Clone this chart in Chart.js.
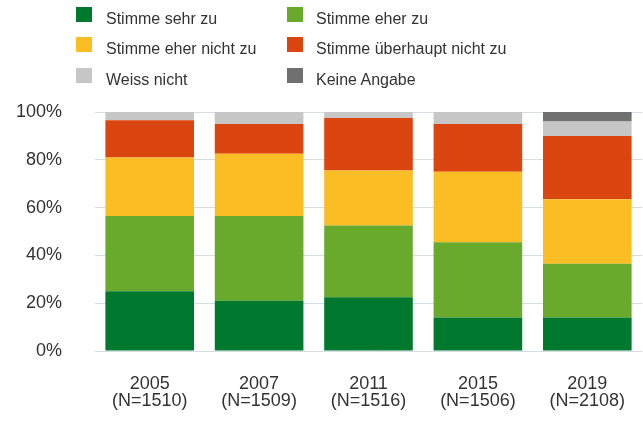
<!DOCTYPE html>
<html>
<head>
<meta charset="utf-8">
<script src="https://cdn.jsdelivr.net/npm/chart.js@4"></script>
<style>
  html, body { margin: 0; padding: 0; background: #fff; }
  #wrap { position: relative; width: 643px; height: 421px; overflow: hidden; }
  #chart { position: absolute; left: 0; top: 0; }
  .lg-box { position: absolute; width: 16px; height: 15px; }
  .lg-text { position: absolute; font: 16px "Liberation Sans", Arial, sans-serif; line-height: 16px; color: #333; white-space: nowrap; }
</style>
</head>
<body>
<div id="wrap">
  <canvas id="chart" width="643" height="421"></canvas>
  <div id="legend"></div>
</div>
<script>
// categories
const years = ['2005', '2007', '2011', '2015', '2019'];
const sampleSizes = ['(N=1510)', '(N=1509)', '(N=1516)', '(N=1506)', '(N=2108)'];

// shares in percent, bottom to top
const sehrZu          = [25,   21,   22.5, 14,   14];
const eherZu          = [31.5, 35.5, 30,   31.5, 22.5];
const eherNichtZu     = [24.5, 26,   23,   29.5, 27];
const ueberhauptNicht = [15.5, 12.5, 22,   20,   26.5];
const weissNicht      = [3.5,  5,    2.5,  5,    6];
const keineAngabe     = [0,    0,    0,    0,    4];

const yTicks = [0, 20, 40, 60, 80, 100];

const seriesNames = ['Stimme sehr zu', 'Stimme eher zu', 'Stimme eher nicht zu',
  'Stimme überhaupt nicht zu', 'Weiss nicht', 'Keine Angabe'];
const seriesData = [sehrZu, eherZu, eherNichtZu, ueberhauptNicht, weissNicht, keineAngabe];
const colors = ['#00792f', '#69a92b', '#fabd24', '#db4510', '#c6c6c6', '#707070'];

const font = '"Liberation Sans", Arial, sans-serif';

new Chart(document.getElementById('chart'), {
  type: 'bar',
  data: {
    labels: years.map((y, i) => [y, sampleSizes[i]]),
    datasets: seriesNames.map((name, i) => ({
      label: name,
      data: seriesData[i],
      backgroundColor: colors[i],
      borderWidth: 0,
      barPercentage: 0.81,
      categoryPercentage: 1
    }))
  },
  options: {
    responsive: false,
    animation: false,
    layout: { padding: { top: 112, left: 0, right: 1, bottom: 8 } },
    plugins: { legend: { display: false }, tooltip: { enabled: false } },
    scales: {
      x: {
        stacked: true,
        grid: { display: false },
        border: { display: false },
        afterFit: s => { s.height = 62; },
        ticks: { color: '#333', font: { family: font, size: 18, lineHeight: 0.97 }, padding: 16, maxRotation: 0 }
      },
      y: {
        stacked: true,
        min: 0,
        max: 100,
        afterBuildTicks: axis => { axis.ticks = yTicks.map(v => ({ value: v })); },
        afterFit: s => { s.width = 95; },
        grid: { color: '#d3dde4', drawTicks: false },
        border: { display: false },
        ticks: { color: '#333', font: { family: font, size: 18 }, padding: 33, callback: v => v + '%' }
      }
    }
  }
});

// two-column legend
const legend = document.getElementById('legend');
const boxX = [76, 287], textX = [106, 316], rowY = [7, 37, 68];
seriesNames.forEach((name, i) => {
  const col = i % 2, row = Math.floor(i / 2);
  const box = document.createElement('div');
  box.className = 'lg-box';
  box.style.left = boxX[col] + 'px';
  box.style.top = rowY[row] + 'px';
  box.style.background = colors[i];
  legend.appendChild(box);
  const txt = document.createElement('div');
  txt.className = 'lg-text';
  txt.style.left = textX[col] + 'px';
  txt.style.top = (rowY[row] + 4) + 'px';
  txt.textContent = name;
  legend.appendChild(txt);
});
</script>
</body>
</html>
